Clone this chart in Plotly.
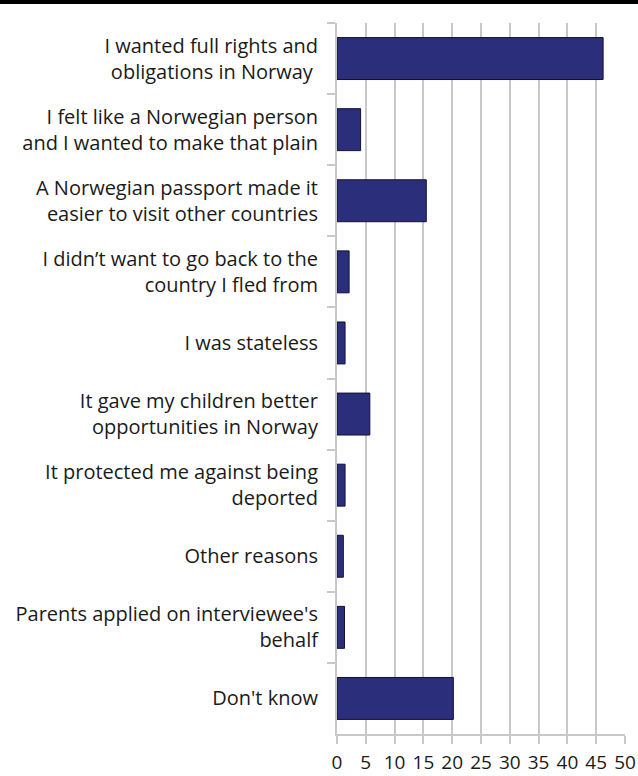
import plotly.graph_objects as go

categories = [
    "I wanted full rights and<br>obligations in Norway ",
    "I felt like a Norwegian person<br>and I wanted to make that plain",
    "A Norwegian passport made it<br>easier to visit other countries",
    "I didn\u2019t want to go back to the<br>country I fled from",
    "I was stateless",
    "It gave my children better<br>opportunities in Norway",
    "It protected me against being<br>deported",
    "Other reasons",
    "Parents applied on interviewee's<br>behalf",
    "Don't know",
]
values = [46.2, 4.1, 15.5, 2.1, 1.4, 5.7, 1.4, 1.1, 1.3, 20.2]
x_ticks = [0, 5, 10, 15, 20, 25, 30, 35, 40, 45, 50]

fig = go.Figure(go.Bar(
    y=categories, x=values, orientation="h",
    marker=dict(color="#2b2f7b", line=dict(color="#111133", width=1)),
    width=0.59,
))

fig.update_layout(
    width=638, height=776,
    margin=dict(l=337, r=13, t=23, b=42, pad=0),
    paper_bgcolor="white", plot_bgcolor="white",
    font=dict(family="Open Sans", size=20, color="#1a1a1a"),
    showlegend=False,
    shapes=[dict(type="line", xref="paper", yref="paper",
                 x0=-2, x1=2, y0=1 + 21 / 711, y1=1 + 21 / 711,
                 line=dict(color="black", width=4))],
)
fig.update_xaxes(
    range=[0, 50], tickvals=x_ticks, ticktext=[str(v) for v in x_ticks],
    showgrid=True, gridcolor="#c8c8c8", gridwidth=2,
    showline=True, linecolor="#c8c8c8", linewidth=2,
    ticks="outside", ticklen=8, tickcolor="#c8c8c8", tickwidth=2,
    zeroline=False, fixedrange=True, automargin=False,
    tickfont=dict(size=19), ticklabelstandoff=2,
)
fig.update_yaxes(
    autorange="reversed", type="category",
    showline=True, linecolor="#c8c8c8", linewidth=2,
    ticks="outside", ticklen=8, tickcolor="#c8c8c8", tickwidth=2,
    tickson="boundaries", showgrid=False, automargin=False,
    ticklabelstandoff=13, fixedrange=True,
)

fig.write_html("out.html", config={"displayModeBar": False},
               post_script="document.body.style.margin='0';")
